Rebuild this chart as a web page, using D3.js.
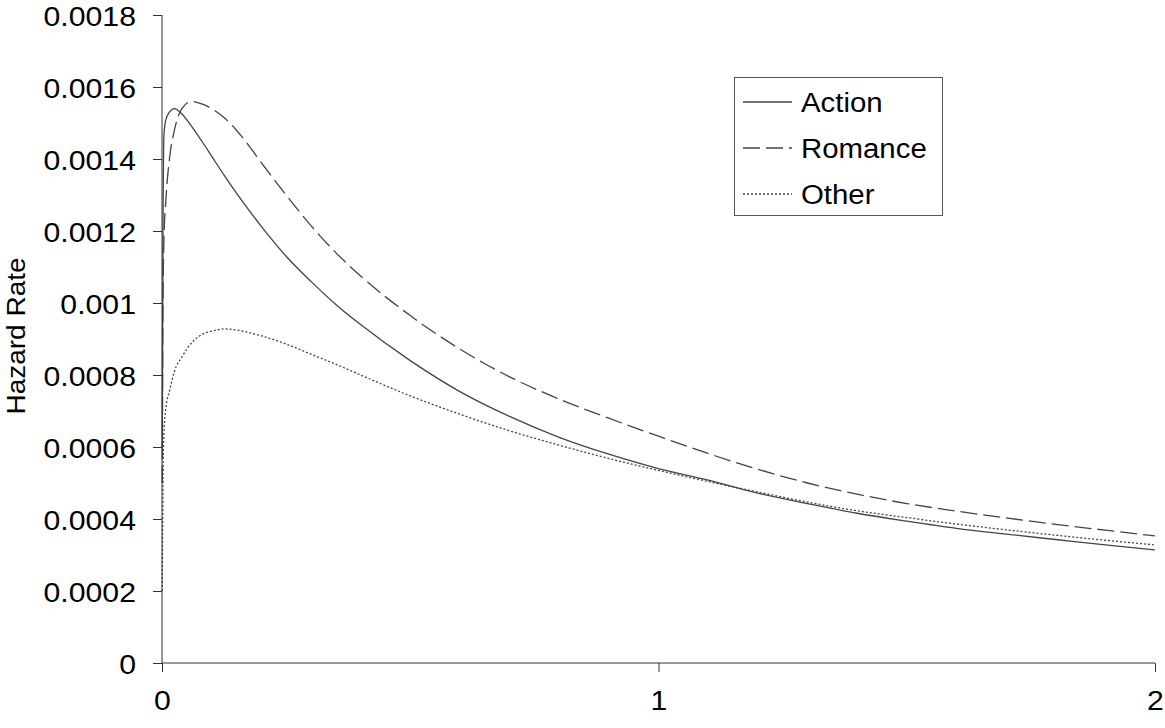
<!DOCTYPE html>
<html>
<head>
<meta charset="utf-8">
<script src="https://cdn.jsdelivr.net/npm/d3@7"></script>
<style>
  html, body { margin: 0; padding: 0; background: #fff; }
  svg { display: block; }
  text { font-family: "Liberation Sans", Arial, sans-serif; fill: #000; }
</style>
</head>
<body>
<svg id="chart" width="1165" height="728"></svg>
<script>
// ---- data ----
const timePoints = [0.0005, 0.002, 0.004, 0.008, 0.015, 0.025, 0.04, 0.06, 0.08, 0.1, 0.125, 0.15, 0.175, 0.2, 0.25, 0.3, 0.35, 0.4, 0.5, 0.6, 0.7, 0.8, 0.9, 1.0, 1.1, 1.2, 1.3, 1.4, 1.5, 1.6, 1.7, 1.8, 1.9, 2.0];
const actionValues = [0.0006, 0.0012, 0.00147, 0.00151, 0.00153, 0.00154, 0.001525, 0.00149, 0.00145, 0.001408, 0.001355, 0.001305, 0.001258, 0.001213, 0.00113, 0.00106, 0.000996, 0.00094, 0.00084, 0.000754, 0.000685, 0.000627, 0.00058, 0.00054, 0.000508, 0.000472, 0.000443, 0.000416, 0.000394, 0.000374, 0.000358, 0.000343, 0.000328, 0.000314];
const romanceValues = [0.0005, 0.001, 0.00118, 0.00129, 0.0014, 0.00148, 0.00154, 0.00156, 0.001553, 0.00154, 0.001515, 0.00148, 0.001437, 0.00139, 0.0013, 0.001215, 0.00114, 0.001075, 0.000965, 0.000872, 0.000795, 0.000733, 0.00068, 0.00063, 0.000582, 0.000538, 0.0005, 0.000469, 0.000443, 0.000422, 0.000403, 0.000385, 0.000369, 0.000353];
const otherValues = [0.0002, 0.0005, 0.00064, 0.00071, 0.000755, 0.00081, 0.00085, 0.00089, 0.000912, 0.000922, 0.000928, 0.000925, 0.000918, 0.000909, 0.000886, 0.000858, 0.00083, 0.0008, 0.000742, 0.000691, 0.000645, 0.000605, 0.000568, 0.000535, 0.000504, 0.000475, 0.000447, 0.000423, 0.000404, 0.000386, 0.00037, 0.000355, 0.000341, 0.000328];
const seriesNames = ["Action", "Romance", "Other"];
const xTicks = [0, 1, 2];
const yTicks = [0, 0.0002, 0.0004, 0.0006, 0.0008, 0.001, 0.0012, 0.0014, 0.0016, 0.0018];
const yTickLabels = ["0", "0.0002", "0.0004", "0.0006", "0.0008", "0.001", "0.0012", "0.0014", "0.0016", "0.0018"];
const yTitle = "Hazard Rate";

// ---- layout ----
const svg = d3.select("#chart");
const mLeft = 162, mRight = 1155, mTop = 15, mBottom = 663;
const x = d3.scaleLinear().domain([0, 2]).range([mLeft, mRight]);
const y = d3.scaleLinear().domain([0, 0.0018]).range([mBottom, mTop]);
const FS = 27, SX = 1.12;
const axisColor = "#333";

const styles = [
  { dash: null },
  { dash: "17,6" },
  { dash: "2,2" }
];
const series = [actionValues, romanceValues, otherValues];

// ---- lines ----
const line = d3.line()
  .x((d, i) => x(timePoints[i]))
  .y(d => y(d))
  .curve(d3.curveMonotoneX);

series.forEach((vals, k) => {
  svg.append("path")
    .attr("d", line(vals))
    .attr("fill", "none")
    .attr("stroke", "#444")
    .attr("stroke-width", 1.3)
    .attr("stroke-dasharray", styles[k].dash);
});

// ---- y axis ----
const yAxis = d3.axisLeft(y).tickValues(yTicks).tickSize(9).tickFormat((d, i) => yTickLabels[i]);
const gy = svg.append("g").attr("transform", `translate(${mLeft},0)`).call(yAxis);
gy.select(".domain").attr("stroke", axisColor).attr("d", `M0,${mTop}V${mBottom}`);
gy.selectAll(".tick line").attr("stroke", axisColor);
gy.selectAll(".tick text").remove();
gy.selectAll(".tick").each(function(d, i) {
  d3.select(this).append("text")
    .attr("transform", `translate(-26,10) scale(${SX},1)`)
    .attr("text-anchor", "end")
    .style("font-size", FS + "px")
    .text(yTickLabels[i]);
});

// ---- x axis ----
const xAxis = d3.axisBottom(x).tickValues(xTicks).tickSize(9).tickFormat(d3.format("d"));
const gx = svg.append("g").attr("transform", `translate(0,${mBottom})`).call(xAxis);
gx.select(".domain").attr("stroke", axisColor).attr("d", `M${mLeft},0H${mRight}`);
gx.selectAll(".tick line").attr("stroke", axisColor);
gx.selectAll(".tick text").remove();
gx.selectAll(".tick").each(function(d) {
  d3.select(this).append("text")
    .attr("transform", `translate(0,47) scale(${SX},1)`)
    .attr("text-anchor", "middle")
    .style("font-size", FS + "px")
    .text(String(d));
});

// ---- y title ----
svg.append("text")
  .attr("transform", `translate(25,336) rotate(-90) scale(${SX},1)`)
  .attr("text-anchor", "middle")
  .style("font-size", "25px")
  .text(yTitle);

// ---- legend ----
const lg = svg.append("g");
lg.append("rect")
  .attr("x", 734.5).attr("y", 77.5).attr("width", 208).attr("height", 138)
  .attr("fill", "#fff").attr("stroke", "#555").attr("stroke-width", 1);
seriesNames.forEach((name, k) => {
  const ly = 102 + k * 46;
  lg.append("line")
    .attr("x1", 743).attr("x2", 792).attr("y1", ly).attr("y2", ly)
    .attr("stroke", "#444").attr("stroke-width", 1.3)
    .attr("stroke-dasharray", styles[k].dash);
  lg.append("text")
    .attr("transform", `translate(801,${ly + 10}) scale(1.05,1)`)
    .style("font-size", "28px")
    .text(name);
});
</script>
</body>
</html>
